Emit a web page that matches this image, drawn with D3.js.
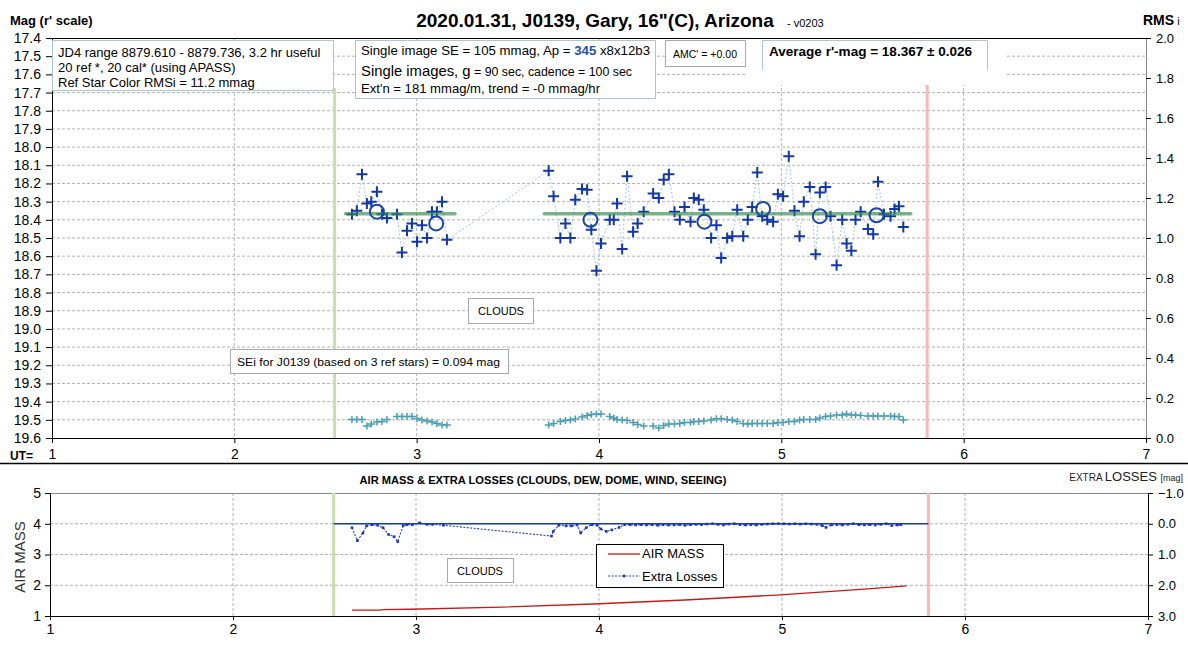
<!DOCTYPE html>
<html>
<head>
<meta charset="utf-8">
<script src="https://d3js.org/d3.v7.min.js"></script>
<style>
body{margin:0;background:#fff;}
svg{font-family:"Liberation Sans",Arial,sans-serif;}
.grid{stroke:#b4b4b4;stroke-dasharray:3,2;stroke-width:1;}
</style>
</head>
<body>
<svg id="chart" width="1188" height="650"></svg>
<script>
// values
const magTicks = [17.4,17.5,17.6,17.7,17.8,17.9,18.0,18.1,18.2,18.3,18.4,18.5,18.6,18.7,18.8,18.9,19.0,19.1,19.2,19.3,19.4,19.5,19.6];
const rmsTicks = [0,0.2,0.4,0.6,0.8,1.0,1.2,1.4,1.6,1.8,2.0];
const utTicks = [1,2,3,4,5,6,7];
const airTicks = [1,2,3,4,5];
const lossTicks = [-1,0,1,2,3];

const startUT = 2.55, endUT = 5.80;

const magUT = [2.645,2.672,2.700,2.727,2.751,2.782,2.810,2.837,2.892,2.919,2.947,2.974,3.002,3.029,3.057,3.084,3.111,3.139,3.166,
  3.724,3.751,3.788,3.816,3.843,3.870,3.907,3.935,3.958,3.986,4.011,4.059,4.081,4.099,4.127,4.154,4.187,4.212,4.245,4.297,
  4.328,4.355,4.383,4.414,4.443,4.469,4.502,4.520,4.547,4.575,4.615,4.644,4.670,4.703,4.731,4.758,4.791,4.816,4.840,4.868,
  4.895,4.923,4.955,4.981,5.010,5.041,5.072,5.100,5.123,5.156,5.188,5.211,5.243,5.270,5.303,5.334,5.358,5.384,5.407,5.435,
  5.475,5.504,5.530,5.563,5.599,5.621,5.645,5.669];
const magVals = [18.37,18.35,18.15,18.31,18.30,18.245,18.37,18.39,18.37,18.58,18.46,18.42,18.52,18.43,18.50,18.355,18.355,18.30,18.51,
  18.13,18.27,18.50,18.42,18.50,18.29,18.23,18.235,18.455,18.68,18.53,18.40,18.40,18.31,18.56,18.16,18.465,18.42,18.355,18.255,
  18.28,18.18,18.15,18.355,18.40,18.33,18.41,18.28,18.29,18.345,18.50,18.43,18.61,18.50,18.49,18.345,18.49,18.40,18.33,18.14,
  18.38,18.40,18.41,18.26,18.27,18.05,18.35,18.49,18.30,18.22,18.59,18.25,18.22,18.38,18.65,18.40,18.53,18.57,18.40,18.355,
  18.45,18.48,18.19,18.37,18.38,18.34,18.325,18.44];
const rmsVals = [0.093,0.093,0.093,0.06,0.07,0.08,0.082,0.093,0.107,0.107,0.107,0.107,0.098,0.09,0.085,0.08,0.073,0.065,0.065,
  0.065,0.073,0.082,0.087,0.09,0.095,0.105,0.112,0.118,0.12,0.12,0.108,0.10,0.093,0.09,0.088,0.078,0.068,0.06,0.06,
  0.05,0.063,0.07,0.07,0.072,0.077,0.077,0.082,0.082,0.085,0.09,0.096,0.096,0.092,0.09,0.082,0.073,0.07,0.072,0.073,
  0.073,0.073,0.073,0.077,0.077,0.082,0.082,0.09,0.093,0.093,0.093,0.1,0.108,0.11,0.115,0.115,0.12,0.115,0.115,0.112,
  0.11,0.11,0.11,0.11,0.11,0.107,0.107,0.09];

const avgUT = [2.782,3.107,3.953,4.578,4.900,5.211,5.522];
const avgVals = [18.355,18.42,18.40,18.41,18.34,18.38,18.375];
const meanStart = [2.61,3.70];
const meanEnd = [3.21,5.71];
const meanMag = 18.367;

const lossUT = [2.65,2.68,2.71,2.73,2.76,2.79,2.82,2.85,2.88,2.90,2.93,2.95,2.98,3.02,3.06,3.09,3.15,
  3.74,3.75,3.78,3.82,3.85,3.88,3.90,3.93,3.96,3.99,4.01,4.04,4.07,4.11,4.14,
  4.17,4.20,4.23,4.26,4.29,4.32,4.35,4.38,4.41,4.44,4.47,4.50,4.53,4.56,4.59,4.62,4.65,4.68,4.71,4.74,
  4.77,4.80,4.83,4.86,4.89,4.92,4.95,4.98,5.01,5.04,5.07,5.10,5.13,5.16,5.19,5.22,5.24,5.27,5.30,5.33,
  5.36,5.39,5.42,5.45,5.48,5.51,5.54,5.57,5.60,5.63,5.65];
const lossVals = [0.13,0.55,0.30,0.07,0.03,0.05,0.13,0.35,0.42,0.58,0.06,0.03,0.03,-0.03,0.02,0.02,0.05,
  0.40,0.25,0.05,0.07,0.07,0.04,0.30,0.13,0.03,0.05,0.17,0.25,0.20,0.12,0.03,
  0.03,0.04,0.03,0.04,0.03,0.05,0.03,0.04,0.04,0.03,0.05,0.03,0.02,0.03,0.01,0.0,0.02,0.04,0.01,0.0,
  0.03,0.04,0.03,0.04,0.02,0.01,0.0,0.0,0.0,0.01,0.0,0.01,0.0,0.01,0.02,0.06,0.12,0.04,0.03,0.04,
  0.02,0.0,0.03,0.04,0.03,0.04,0.02,0.0,0.06,0.04,0.03];

const airUT = [2.65,2.80,2.82,2.97,3.47,3.97,4.47,4.97,5.47,5.68];
const airVals = [1.19,1.19,1.21,1.22,1.29,1.39,1.52,1.68,1.88,1.98];

const svg = d3.select('#chart');

// scales
const xTop = d3.scaleLinear().domain([1,7]).range([52,1146]);
const yMag = d3.scaleLinear().domain([17.4,19.6]).range([38,438]);
const yRms = d3.scaleLinear().domain([0,2]).range([438,38]);
const xBot = d3.scaleLinear().domain([1,7]).range([50,1148]);
const yAir = d3.scaleLinear().domain([1,5]).range([616,493]);
const yLoss = d3.scaleLinear().domain([-1,3]).range([493,616]);

const defs = svg.append('defs');
defs.append('filter').attr('id','blur').append('feGaussianBlur').attr('stdDeviation',1.5);

// ---------- top panel ----------
const topG = svg.append('g');
topG.selectAll('.hg').data(magTicks.slice(1,-1)).enter().append('line').attr('class','grid')
  .attr('x1',52).attr('x2',1146).attr('y1',d=>yMag(d)).attr('y2',d=>yMag(d));
topG.selectAll('.vg').data(utTicks.slice(1,-1)).enter().append('line').attr('class','grid')
  .attr('x1',d=>xTop(d)).attr('x2',d=>xTop(d)).attr('y1',38).attr('y2',438);

// white patch under the average box
topG.append('rect').attr('x',745).attr('y',39).attr('width',260).attr('height',46).attr('fill','#fff');

// start / end markers
topG.append('line').attr('x1',xTop(startUT)).attr('x2',xTop(startUT)).attr('y1',88).attr('y2',438)
  .attr('stroke','#c6e0a8').attr('stroke-width',3);
topG.append('line').attr('x1',xTop(endUT)).attr('x2',xTop(endUT)).attr('y1',85).attr('y2',438)
  .attr('stroke','#f6b8b8').attr('stroke-width',3);

const pts = magUT.map((t,i)=>({t:t,m:magVals[i],r:rmsVals[i]}));

// faint connecting line
topG.append('path').datum(pts)
  .attr('d',d3.line().x(d=>xTop(d.t)).y(d=>yMag(d.m)))
  .attr('fill','none').attr('stroke','#a9c6e6').attr('stroke-width',1).attr('stroke-dasharray','2,2');

// pluses
topG.selectAll('.pm').data(pts).enter().append('path')
  .attr('transform',d=>`translate(${xTop(d.t)},${yMag(d.m)})`)
  .attr('d','M-5.5,0H5.5M0,-5.5V5.5').attr('stroke','#1238a8').attr('stroke-width',2);

// mean line (green, soft)
meanStart.forEach((s,i)=>{
  topG.append('line').attr('x1',xTop(s)).attr('x2',xTop(meanEnd[i])).attr('y1',yMag(meanMag)).attr('y2',yMag(meanMag))
    .attr('stroke','#6cbf80').attr('stroke-width',9).attr('opacity',0.6).attr('filter','url(#blur)');
  topG.append('line').attr('x1',xTop(s)).attr('x2',xTop(meanEnd[i])).attr('y1',yMag(meanMag)).attr('y2',yMag(meanMag))
    .attr('stroke','#2f8a4c').attr('stroke-width',3.5).attr('opacity',0.65).attr('stroke-linecap','round');
});

// group averages
topG.selectAll('.ac').data(avgUT).enter().append('circle')
  .attr('cx',d=>xTop(d)).attr('cy',(d,i)=>yMag(avgVals[i])).attr('r',7)
  .attr('fill','none').attr('stroke','#1b45ad').attr('stroke-width',2);

// RMS series
topG.selectAll('.rm').data(pts).enter().append('path')
  .attr('transform',d=>`translate(${xTop(d.t)},${yRms(d.r)})`)
  .attr('d','M-4,0H4M0,-3.5V3.5').attr('stroke','#4a9fb4').attr('stroke-width',1.5);

// axes
const axL = topG.append('g').attr('transform','translate(52,0)')
  .call(d3.axisLeft(yMag).tickValues(magTicks).tickFormat(d3.format('.1f')).tickSize(6).tickPadding(5));
axL.selectAll('text').attr('font-size',14).attr('fill','#000');
const axR = topG.append('g').attr('transform','translate(1146,0)')
  .call(d3.axisRight(yRms).tickValues(rmsTicks).tickFormat(d3.format('.1f')).tickSize(5).tickPadding(5));
axR.selectAll('text').attr('font-size',13).attr('fill','#000');
axR.select('.domain').attr('stroke','#888');
const axB = topG.append('g').attr('transform','translate(0,438)')
  .call(d3.axisBottom(xTop).tickValues(utTicks).tickFormat(d3.format('d')).tickSize(5).tickPadding(6));
axB.selectAll('text').attr('font-size',14).attr('fill','#000');
topG.append('line').attr('x1',52).attr('x2',1146).attr('y1',38.5).attr('y2',38.5).attr('stroke','#000');
[axL,axR,axB].forEach(a=>a.selectAll('.tick line').attr('stroke','#000'));

// labels
svg.append('text').attr('x',10).attr('y',25).attr('font-size',13).attr('font-weight','bold').text("Mag (r' scale)");
const rmsLab = svg.append('text').attr('x',1143).attr('y',25).attr('font-size',14).attr('font-weight','bold');
rmsLab.append('tspan').text('RMS');
rmsLab.append('tspan').attr('font-size',11).attr('font-weight','normal').text(' i');
svg.append('text').attr('x',10).attr('y',460).attr('font-size',12).attr('font-weight','bold').text('UT=');
svg.append('text').attr('x',595).attr('y',27).attr('text-anchor','middle').attr('font-size',19).attr('font-weight','bold')
  .text('2020.01.31, J0139, Gary, 16"(C), Arizona');
svg.append('text').attr('x',787).attr('y',27).attr('font-size',11).text('- v0203');

// text boxes
const boxStroke = '#a9c9d2';
svg.append('rect').attr('x',52.5).attr('y',40.5).attr('width',281).attr('height',50).attr('fill','#fff').attr('stroke',boxStroke);
["JD4 range 8879.610 - 8879.736, 3.2 hr useful","20 ref *, 20 cal* (using APASS)","Ref Star Color RMSi = 11.2 mmag"]
  .forEach((s,i)=>svg.append('text').attr('x',58).attr('y',57+i*15).attr('font-size',13).text(s));

svg.append('rect').attr('x',355.5).attr('y',40.5).attr('width',300).attr('height',58).attr('fill','#fff').attr('stroke',boxStroke);
const l1 = svg.append('text').attr('x',361).attr('y',55).attr('font-size',13)
  .attr('textLength',289).attr('lengthAdjust','spacingAndGlyphs');
l1.append('tspan').text('Single image SE = 105 mmag, Ap = ');
l1.append('tspan').attr('fill','#1f4fb8').attr('font-weight','bold').text('345');
l1.append('tspan').text(' x8x12b3');
const l2 = svg.append('text').attr('x',361).attr('y',76).attr('font-size',15)
  .attr('textLength',271).attr('lengthAdjust','spacingAndGlyphs');
l2.append('tspan').text('Single images, g');
l2.append('tspan').attr('font-size',12.5).text(' = 90 sec, cadence = 100 sec');
svg.append('text').attr('x',361).attr('y',93).attr('font-size',13)
  .attr('textLength',239).attr('lengthAdjust','spacingAndGlyphs').text("Ext'n = 181 mmag/m, trend = -0 mmag/hr");

svg.append('rect').attr('x',665.5).attr('y',40.5).attr('width',80).attr('height',26).attr('fill','#fff').attr('stroke','#aaa');
svg.append('text').attr('x',673).attr('y',58).attr('font-size',11.5)
  .attr('textLength',64).attr('lengthAdjust','spacingAndGlyphs').text("AMC' = +0.00");

svg.append('path').attr('d','M762.5,70V40.5H987.5V70').attr('fill','none').attr('stroke',boxStroke);
svg.append('text').attr('x',769).attr('y',56).attr('font-size',13).attr('font-weight','bold')
  .attr('textLength',203).attr('lengthAdjust','spacingAndGlyphs').text("Average r'-mag =  18.367 \u00b1 0.026");

svg.append('rect').attr('x',468.5).attr('y',298.5).attr('width',65).attr('height',25).attr('fill','#fff').attr('stroke','#aaa');
svg.append('text').attr('x',501).attr('y',315).attr('text-anchor','middle').attr('font-size',11).text('CLOUDS');

svg.append('rect').attr('x',230.5).attr('y',349.5).attr('width',278).attr('height',24).attr('fill','#fff').attr('stroke','#aaa');
svg.append('text').attr('x',237).attr('y',366).attr('font-size',11.5)
  .attr('textLength',263).attr('lengthAdjust','spacingAndGlyphs').text('SEi for J0139 (based on 3 ref stars) = 0.094 mag');

// separator
svg.append('line').attr('x1',0).attr('x2',1188).attr('y1',463.5).attr('y2',463.5).attr('stroke','#000').attr('stroke-width',1.5);

// ---------- bottom panel ----------
const bot = svg.append('g');
svg.append('text').attr('x',543).attr('y',484).attr('text-anchor','middle').attr('font-size',11).attr('font-weight','bold')
  .attr('textLength',367).attr('lengthAdjust','spacingAndGlyphs')
  .text('AIR MASS & EXTRA LOSSES (CLOUDS, DEW, DOME, WIND, SEEING)');
const el = svg.append('text').attr('x',1183).attr('y',481).attr('text-anchor','end').attr('font-size',13).attr('fill','#222');
el.append('tspan').attr('font-size',10).text('EXTRA ');
el.append('tspan').text('LOSSES ');
el.append('tspan').attr('font-size',9).text('[mag]');

bot.selectAll('.hg').data(airTicks.slice(1,-1)).enter().append('line').attr('class','grid')
  .attr('x1',50).attr('x2',1148).attr('y1',d=>yAir(d)).attr('y2',d=>yAir(d));
bot.selectAll('.vg').data(utTicks.slice(1,-1)).enter().append('line').attr('class','grid')
  .attr('x1',d=>xBot(d)).attr('x2',d=>xBot(d)).attr('y1',493).attr('y2',616);
bot.append('line').attr('x1',50).attr('x2',1148).attr('y1',493.5).attr('y2',493.5).attr('stroke','#888');

bot.append('line').attr('x1',xBot(startUT)).attr('x2',xBot(startUT)).attr('y1',493).attr('y2',616)
  .attr('stroke','#c6e0a8').attr('stroke-width',3);
bot.append('line').attr('x1',xBot(endUT)).attr('x2',xBot(endUT)).attr('y1',493).attr('y2',616)
  .attr('stroke','#f6b8b8').attr('stroke-width',3);

bot.append('line').attr('x1',xBot(startUT)).attr('x2',xBot(endUT)).attr('y1',yLoss(0)).attr('y2',yLoss(0))
  .attr('stroke','#1c3f96').attr('stroke-width',1.5);

const lossPts = lossUT.map((t,i)=>({t:t,v:lossVals[i]}));
bot.append('path').datum(lossPts)
  .attr('d',d3.line().x(d=>xBot(d.t)).y(d=>yLoss(d.v)))
  .attr('fill','none').attr('stroke','#2440c0').attr('stroke-width',1.1).attr('stroke-dasharray','2,1.5');
bot.selectAll('.lm').data(lossPts).enter().append('rect')
  .attr('x',d=>xBot(d.t)-1.3).attr('y',d=>yLoss(d.v)-1.3).attr('width',2.6).attr('height',2.6).attr('fill','#1a36b8');

bot.append('path').datum(airUT.map((t,i)=>({t:t,v:airVals[i]})))
  .attr('d',d3.line().x(d=>xBot(d.t)).y(d=>yAir(d.v)))
  .attr('fill','none').attr('stroke','#c41a1a').attr('stroke-width',1.3);

const bL = bot.append('g').attr('transform','translate(50,0)')
  .call(d3.axisLeft(yAir).tickValues(airTicks).tickFormat(d3.format('d')).tickSize(5).tickPadding(4));
bL.selectAll('text').attr('font-size',14).attr('fill','#000');
const bR = bot.append('g').attr('transform','translate(1148,0)')
  .call(d3.axisRight(yLoss).tickValues(lossTicks).tickFormat(d3.format('.1f')).tickSize(5).tickPadding(5));
bR.selectAll('text').attr('font-size',13).attr('fill','#000');
const bB = bot.append('g').attr('transform','translate(0,616)')
  .call(d3.axisBottom(xBot).tickValues(utTicks).tickFormat(d3.format('d')).tickSize(4).tickPadding(4));
bB.selectAll('text').attr('font-size',14).attr('fill','#000');
[bL,bR,bB].forEach(a=>a.selectAll('.tick line').attr('stroke','#000'));

svg.append('text').attr('transform','translate(25,557) rotate(-90)').attr('text-anchor','middle')
  .attr('font-size',15).attr('fill','#333').text('AIR MASS');

// legend
svg.append('rect').attr('x',596.5).attr('y',544.5).attr('width',127).attr('height',43).attr('fill','#fff').attr('stroke','#000');
svg.append('line').attr('x1',608).attr('x2',640).attr('y1',554).attr('y2',554).attr('stroke','#c41a1a').attr('stroke-width',1.3);
svg.append('text').attr('x',642).attr('y',558).attr('font-size',13).text('AIR MASS');
svg.append('line').attr('x1',608).attr('x2',640).attr('y1',576).attr('y2',576).attr('stroke','#2440c0')
  .attr('stroke-width',1.1).attr('stroke-dasharray','2,1.5');
svg.append('rect').attr('x',622.7).attr('y',574.7).attr('width',2.6).attr('height',2.6).attr('fill','#1a36b8');
svg.append('text').attr('x',642).attr('y',581).attr('font-size',13).text('Extra Losses');

svg.append('rect').attr('x',447.5).attr('y',558.5).attr('width',66).attr('height',24).attr('fill','#fff').attr('stroke','#aaa');
svg.append('text').attr('x',480).attr('y',575).attr('text-anchor','middle').attr('font-size',11).text('CLOUDS');
</script>
</body>
</html>
